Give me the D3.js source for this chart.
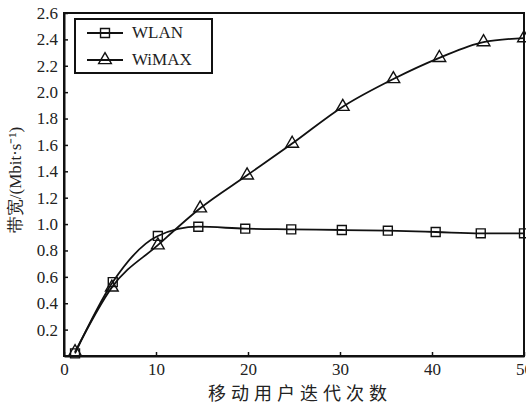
<!DOCTYPE html>
<html>
<head>
<meta charset="utf-8">
<script src="https://cdn.jsdelivr.net/npm/d3@7"></script>
<style>
  body { margin: 0; background: #fff; }
  svg { display: block; }
</style>
</head>
<body>
<div id="container"></div>
<script>
// data
const wlanX = [1.2, 5.3, 10.2, 14.6, 19.7, 24.7, 30.2, 35.2, 40.4, 45.3, 50];
const wlanY = [0.02, 0.56, 0.91, 0.98, 0.965, 0.96, 0.955, 0.95, 0.94, 0.93, 0.93];
const wimaxX = [1.2, 5.2, 10.2, 14.8, 19.9, 24.8, 30.3, 35.8, 40.8, 45.6, 50];
const wimaxY = [0.03, 0.52, 0.84, 1.12, 1.37, 1.61, 1.89, 2.1, 2.26, 2.38, 2.41];
const xTicks = [0, 10, 20, 30, 40, 50];
const yTicks = [0.2, 0.4, 0.6, 0.8, 1.0, 1.2, 1.4, 1.6, 1.8, 2.0, 2.2, 2.4, 2.6];
const seriesNames = ["WLAN", "WiMAX"];

const width = 526,
      height = 405,
      margin = {top: 13, right: 2, bottom: 49, left: 64};

const serif = "Liberation Serif";

const svg = d3.select("#container")
  .append("svg")
  .attr("width", width)
  .attr("height", height);

const g = svg.append("g")
  .attr("transform", "translate(" + margin.left + "," + margin.top + ")");

const w = width - margin.left - margin.right,
      h = height - margin.top - margin.bottom;

const xScale = d3.scaleLinear().domain([0, 50]).range([0, w]);
const yScale = d3.scaleLinear().domain([0, 2.6]).range([h, 0]);

// frame
g.append("rect")
  .attr("x", 0).attr("y", 0)
  .attr("width", w).attr("height", h)
  .attr("fill", "none")
  .attr("stroke", "#111")
  .attr("stroke-width", 2);

const xAxis = d3.axisBottom(xScale)
  .tickValues(xTicks)
  .tickSizeInner(-4)
  .tickSizeOuter(0)
  .tickPadding(7);

const yAxis = d3.axisLeft(yScale)
  .tickValues(yTicks)
  .tickSizeInner(-4)
  .tickSizeOuter(0)
  .tickPadding(6)
  .tickFormat(d3.format(".1f"));

const gx = g.append("g")
  .attr("transform", "translate(0," + h + ")")
  .call(xAxis);

const gy = g.append("g").call(yAxis);

[gx, gy].forEach(a => {
  a.attr("font-family", serif).attr("font-size", 17);
  a.select(".domain").attr("stroke", "#111").attr("stroke-width", 2);
  a.selectAll(".tick line").attr("stroke", "#111").attr("stroke-width", 1.5);
  a.selectAll(".tick text").attr("fill", "#222");
});

// axis titles
svg.append("text")
  .attr("x", margin.left + w / 2 + 6)
  .attr("y", 400)
  .attr("text-anchor", "middle")
  .attr("font-family", "Noto Sans CJK SC")
  .attr("font-size", 18)
  .style("letter-spacing", "5px")
  .attr("fill", "#222")
  .text("移动用户迭代次数");

svg.append("text")
  .attr("transform", "translate(21," + 180 + ") rotate(-90)")
  .attr("text-anchor", "middle")
  .attr("font-family", serif)
  .attr("font-size", 17)
  .attr("fill", "#222")
  .text("带宽/(Mbit·s⁻¹)");

// lines
const line = d3.line()
  .x(d => xScale(d[0]))
  .y(d => yScale(d[1]))
  .curve(d3.curveMonotoneX);

const wlan = wlanX.map((x, i) => [x, wlanY[i]]);
const wimax = wimaxX.map((x, i) => [x, wimaxY[i]]);

[wlan, wimax].forEach(s => {
  g.append("path")
    .datum(s)
    .attr("d", line)
    .attr("fill", "none")
    .attr("stroke", "#111")
    .attr("stroke-width", 1.8);
});

const square = d3.symbol().type(d3.symbolSquare).size(80);
const triangle = d3.symbol().type(d3.symbolTriangle).size(70);

g.append("g").selectAll("path").data(wlan)
  .enter().append("path")
  .attr("d", square)
  .attr("transform", d => "translate(" + xScale(d[0]) + "," + yScale(d[1]) + ")")
  .attr("fill", "none")
  .attr("stroke", "#111")
  .attr("stroke-width", 1.4);

g.append("g").selectAll("path").data(wimax)
  .enter().append("path")
  .attr("d", triangle)
  .attr("transform", d => "translate(" + xScale(d[0]) + "," + yScale(d[1]) + ")")
  .attr("fill", "none")
  .attr("stroke", "#111")
  .attr("stroke-width", 1.4);

// legend
const legend = svg.append("g").attr("transform", "translate(75,19)");
legend.append("rect")
  .attr("width", 137).attr("height", 54)
  .attr("fill", "#fff")
  .attr("stroke", "#111")
  .attr("stroke-width", 2);

const symbols = [square, triangle];
seriesNames.forEach((name, i) => {
  const yy = 14 + i * 27;
  legend.append("line")
    .attr("x1", 12).attr("x2", 48)
    .attr("y1", yy).attr("y2", yy)
    .attr("stroke", "#111").attr("stroke-width", 1.8);
  legend.append("path")
    .attr("d", symbols[i])
    .attr("transform", "translate(30," + yy + ")")
    .attr("fill", "none")
    .attr("stroke", "#111")
    .attr("stroke-width", 1.4);
  legend.append("text")
    .attr("x", 57).attr("y", yy + 5)
    .attr("font-family", serif)
    .attr("font-size", 17)
    .attr("fill", "#222")
    .text(name);
});
</script>
</body>
</html>
